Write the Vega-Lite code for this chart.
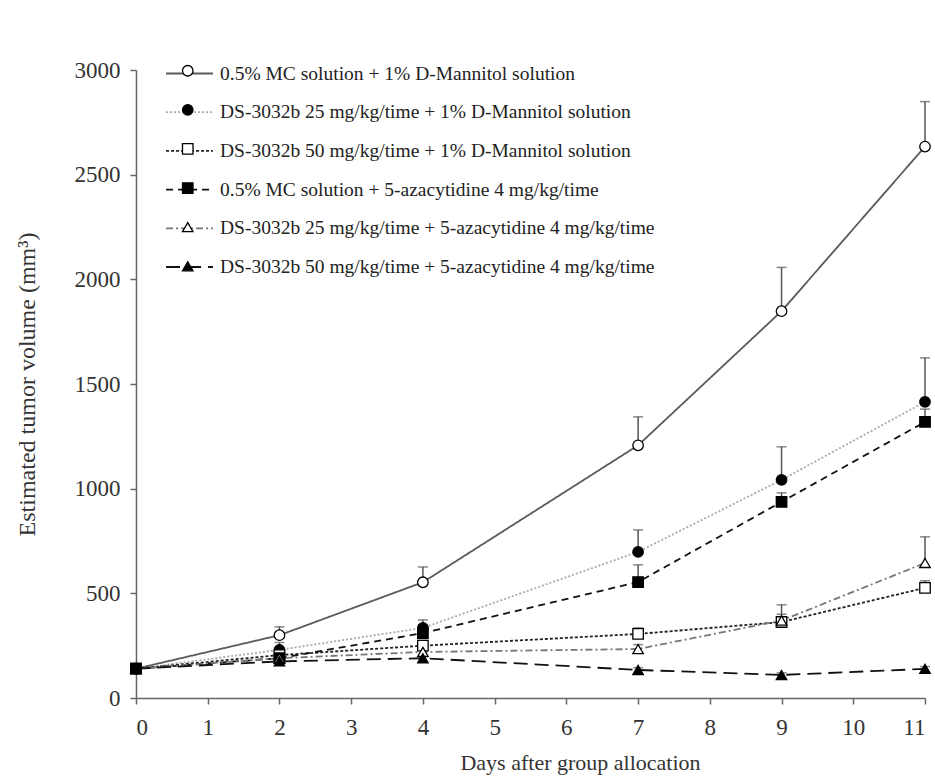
{
  "$schema": "https://vega.github.io/schema/vega-lite/v6.json",
  "width": 789,
  "height": 628,
  "autosize": {"type": "none"},
  "padding": {"left": 136, "top": 70, "right": 10, "bottom": 78},
  "background": "white",
  "config": {
    "font": "Liberation Serif",
    "view": {"stroke": null},
    "axis": {
      "grid": false,
      "domainColor": "#666666",
      "domainWidth": 1.5,
      "tickColor": "#666666",
      "tickWidth": 1.5,
      "tickSize": 6,
      "labelFont": "Liberation Serif",
      "labelFontSize": 23,
      "labelColor": "#333333",
      "titleFont": "Liberation Serif",
      "titleFontSize": 22,
      "titleFontWeight": "normal",
      "titleColor": "#333333"
    },
    "legend": {"labelFont": "Liberation Serif", "labelLimit": 0}
  },
  "data": {
    "values": [
      {"series": "0.5% MC solution + 1% D-Mannitol solution", "day": 0, "volume": 140, "upper": 140},
      {"series": "0.5% MC solution + 1% D-Mannitol solution", "day": 2, "volume": 300, "upper": 340},
      {"series": "0.5% MC solution + 1% D-Mannitol solution", "day": 4, "volume": 553, "upper": 626},
      {"series": "0.5% MC solution + 1% D-Mannitol solution", "day": 7, "volume": 1207, "upper": 1343},
      {"series": "0.5% MC solution + 1% D-Mannitol solution", "day": 9, "volume": 1848, "upper": 2057},
      {"series": "0.5% MC solution + 1% D-Mannitol solution", "day": 11, "volume": 2634, "upper": 2849},
      {"series": "DS-3032b 25 mg/kg/time + 1% D-Mannitol solution", "day": 0, "volume": 140, "upper": 140},
      {"series": "DS-3032b 25 mg/kg/time + 1% D-Mannitol solution", "day": 2, "volume": 230, "upper": 265},
      {"series": "DS-3032b 25 mg/kg/time + 1% D-Mannitol solution", "day": 4, "volume": 335, "upper": 373},
      {"series": "DS-3032b 25 mg/kg/time + 1% D-Mannitol solution", "day": 7, "volume": 698, "upper": 803},
      {"series": "DS-3032b 25 mg/kg/time + 1% D-Mannitol solution", "day": 9, "volume": 1042, "upper": 1200},
      {"series": "DS-3032b 25 mg/kg/time + 1% D-Mannitol solution", "day": 11, "volume": 1415, "upper": 1625},
      {"series": "DS-3032b 50 mg/kg/time + 1% D-Mannitol solution", "day": 0, "volume": 140, "upper": 140},
      {"series": "DS-3032b 50 mg/kg/time + 1% D-Mannitol solution", "day": 2, "volume": 205, "upper": 225},
      {"series": "DS-3032b 50 mg/kg/time + 1% D-Mannitol solution", "day": 4, "volume": 250, "upper": 275},
      {"series": "DS-3032b 50 mg/kg/time + 1% D-Mannitol solution", "day": 7, "volume": 306, "upper": 335},
      {"series": "DS-3032b 50 mg/kg/time + 1% D-Mannitol solution", "day": 9, "volume": 363, "upper": 400},
      {"series": "DS-3032b 50 mg/kg/time + 1% D-Mannitol solution", "day": 11, "volume": 526, "upper": 560},
      {"series": "0.5% MC solution + 5-azacytidine 4 mg/kg/time", "day": 0, "volume": 140, "upper": 140},
      {"series": "0.5% MC solution + 5-azacytidine 4 mg/kg/time", "day": 2, "volume": 190, "upper": 215},
      {"series": "0.5% MC solution + 5-azacytidine 4 mg/kg/time", "day": 4, "volume": 310, "upper": 350},
      {"series": "0.5% MC solution + 5-azacytidine 4 mg/kg/time", "day": 7, "volume": 554, "upper": 636},
      {"series": "0.5% MC solution + 5-azacytidine 4 mg/kg/time", "day": 9, "volume": 937, "upper": 980},
      {"series": "0.5% MC solution + 5-azacytidine 4 mg/kg/time", "day": 11, "volume": 1319, "upper": 1380},
      {"series": "DS-3032b 25 mg/kg/time + 5-azacytidine 4 mg/kg/time", "day": 0, "volume": 140, "upper": 140},
      {"series": "DS-3032b 25 mg/kg/time + 5-azacytidine 4 mg/kg/time", "day": 2, "volume": 190, "upper": 205},
      {"series": "DS-3032b 25 mg/kg/time + 5-azacytidine 4 mg/kg/time", "day": 4, "volume": 220, "upper": 240},
      {"series": "DS-3032b 25 mg/kg/time + 5-azacytidine 4 mg/kg/time", "day": 7, "volume": 234, "upper": 255},
      {"series": "DS-3032b 25 mg/kg/time + 5-azacytidine 4 mg/kg/time", "day": 9, "volume": 370, "upper": 445},
      {"series": "DS-3032b 25 mg/kg/time + 5-azacytidine 4 mg/kg/time", "day": 11, "volume": 645, "upper": 770},
      {"series": "DS-3032b 50 mg/kg/time + 5-azacytidine 4 mg/kg/time", "day": 0, "volume": 140, "upper": 140},
      {"series": "DS-3032b 50 mg/kg/time + 5-azacytidine 4 mg/kg/time", "day": 2, "volume": 175, "upper": 190},
      {"series": "DS-3032b 50 mg/kg/time + 5-azacytidine 4 mg/kg/time", "day": 4, "volume": 190, "upper": 205},
      {"series": "DS-3032b 50 mg/kg/time + 5-azacytidine 4 mg/kg/time", "day": 7, "volume": 134, "upper": 145},
      {"series": "DS-3032b 50 mg/kg/time + 5-azacytidine 4 mg/kg/time", "day": 9, "volume": 110, "upper": 120},
      {"series": "DS-3032b 50 mg/kg/time + 5-azacytidine 4 mg/kg/time", "day": 11, "volume": 139, "upper": 150}
    ]
  },
  "encoding": {
    "x": {
      "field": "day",
      "type": "quantitative",
      "title": "Days after group allocation",
      "scale": {"domain": [0, 11], "nice": false, "zero": false},
      "axis": {"values": [0, 1, 2, 3, 4, 5, 6, 7, 8, 9, 10, 11], "labelPadding": 12, "titleX": 444, "titleY": 64, "titleBaseline": "middle"}
    },
    "y": {
      "field": "volume",
      "type": "quantitative",
      "title": "Estimated tumor volume (mm³)",
      "scale": {"domain": [0, 3000], "nice": false},
      "axis": {"values": [0, 500, 1000, 1500, 2000, 2500, 3000], "format": "d", "labelPadding": 10, "titleFontSize": 24, "titleX": -109, "titleY": 314, "titleAngle": -90, "titleAlign": "center", "titleBaseline": "middle"}
    }
  },
  "layer": [
    {
      "mark": {"type": "line", "strokeWidth": 1.8},
      "encoding": {
        "stroke": {
          "field": "series",
          "type": "nominal",
          "scale": {
            "domain": [
              "0.5% MC solution + 1% D-Mannitol solution",
              "DS-3032b 25 mg/kg/time + 1% D-Mannitol solution",
              "DS-3032b 50 mg/kg/time + 1% D-Mannitol solution",
              "0.5% MC solution + 5-azacytidine 4 mg/kg/time",
              "DS-3032b 25 mg/kg/time + 5-azacytidine 4 mg/kg/time",
              "DS-3032b 50 mg/kg/time + 5-azacytidine 4 mg/kg/time"
            ],
            "range": ["#5a5a5a", "#aaaaaa", "#222222", "#111111", "#777777", "#111111"]
          },
          "legend": {"orient": "none", "legendX": 29, "legendY": -21, "title": null, "symbolType": "stroke", "symbolSize": 2200, "symbolStrokeWidth": 1.8, "labelFontSize": 19.5, "labelColor": "#222222", "labelOffset": 6, "labelLimit": 0, "rowPadding": 4.7, "padding": 0}
        },
        "strokeDash": {
          "field": "series",
          "type": "nominal",
          "scale": {
            "domain": [
              "0.5% MC solution + 1% D-Mannitol solution",
              "DS-3032b 25 mg/kg/time + 1% D-Mannitol solution",
              "DS-3032b 50 mg/kg/time + 1% D-Mannitol solution",
              "0.5% MC solution + 5-azacytidine 4 mg/kg/time",
              "DS-3032b 25 mg/kg/time + 5-azacytidine 4 mg/kg/time",
              "DS-3032b 50 mg/kg/time + 5-azacytidine 4 mg/kg/time"
            ],
            "range": [[1, 0], [2, 2], [3, 2], [7, 5], [7, 3, 2, 3], [14, 7]]
          },
          "legend": {"orient": "none", "legendX": 29, "legendY": -21, "title": null, "symbolType": "stroke", "symbolSize": 2200, "symbolStrokeWidth": 1.8, "labelFontSize": 19.5, "labelColor": "#222222", "labelOffset": 6, "labelLimit": 0, "rowPadding": 4.7, "padding": 0}
        }
      }
    },
    {
      "mark": {"type": "rule", "color": "#555555", "strokeWidth": 1.5},
      "encoding": {"y2": {"field": "upper"}}
    },
    {
      "mark": {"type": "tick", "orient": "horizontal", "color": "#555555", "size": 10, "thickness": 1.5},
      "encoding": {"y": {"field": "upper", "type": "quantitative", "title": "Estimated tumor volume (mm³)"}}
    },
    {
      "mark": {"type": "point", "filled": true, "stroke": "black", "strokeWidth": 1.3, "size": 110, "opacity": 1},
      "encoding": {
        "shape": {
          "field": "series",
          "type": "nominal",
          "sort": null,
          "scale": {"range": ["circle", "circle", "square", "square", "triangle-up", "triangle-up"]},
          "legend": {"orient": "none", "legendX": 42, "legendY": -9, "title": null, "labelExpr": "''", "labelFontSize": 19.5, "symbolSize": 110, "symbolStrokeColor": "black", "symbolStrokeWidth": 1.3, "rowPadding": 18.1, "padding": 0, "encoding": {"symbols": {"stroke": {"value": "black"}, "strokeWidth": {"value": 1.3}}}}
        },
        "fill": {
          "field": "series",
          "type": "nominal",
          "sort": null,
          "scale": {"range": ["white", "black", "white", "black", "white", "black"]},
          "legend": {"orient": "none", "legendX": 42, "legendY": -9, "title": null, "labelExpr": "''", "labelFontSize": 19.5, "symbolSize": 110, "symbolStrokeColor": "black", "symbolStrokeWidth": 1.3, "rowPadding": 18.1, "padding": 0, "encoding": {"symbols": {"stroke": {"value": "black"}, "strokeWidth": {"value": 1.3}}}}
        }
      }
    }
  ]
}
